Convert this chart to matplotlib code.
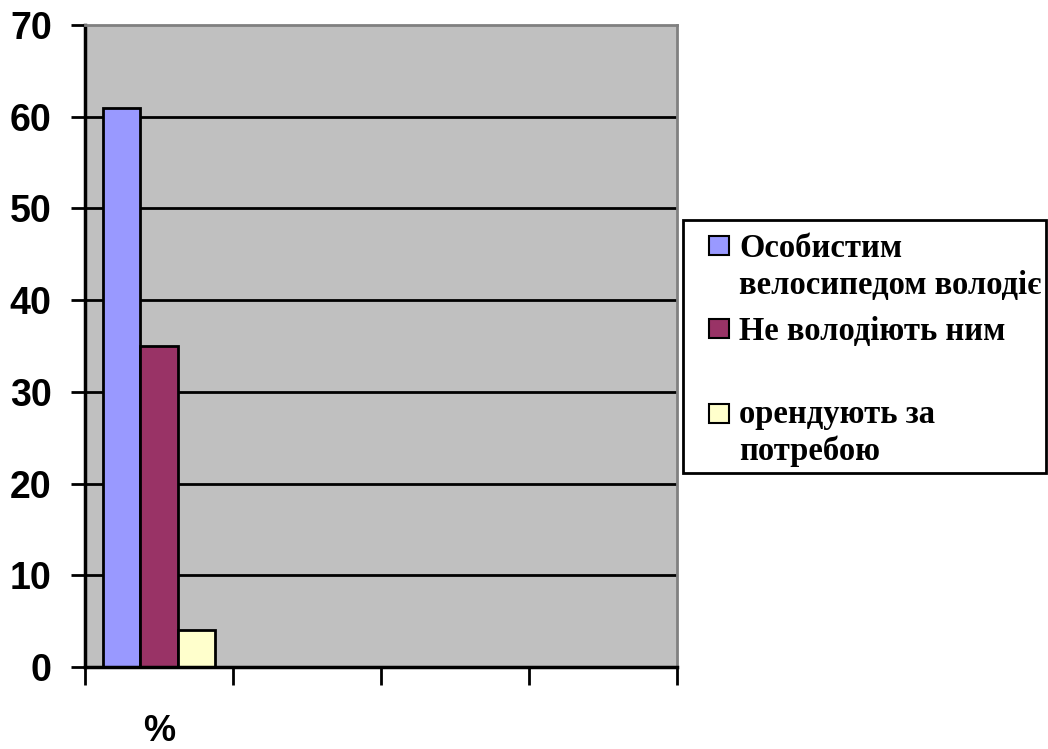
import numpy as np
import matplotlib
matplotlib.use("Agg")
import matplotlib.pyplot as plt
import matplotlib.patches as mpatches

# data
categories = ["%"]
series_names = [["Особистим", "велосипедом володіє"], ["Не володіють ним"], ["орендують за", "потребою"]]
series_values = [[61], [35], [4]]
bar_colors = ["#9999FF", "#993366", "#FFFFCC"]
n_slots = 4  # the category axis has four slots, only the first is used
y_ticks = [0, 10, 20, 30, 40, 50, 60, 70]

fig = plt.figure(figsize=(10.48, 7.49), dpi=100)
ax = fig.add_axes([85 / 1048, 1 - 667 / 749, (677 - 85) / 1048, (667 - 25) / 749])
ax.set_facecolor("#C0C0C0")

# gridlines
for t in y_ticks[1:-1]:
    ax.axhline(t, color="black", lw=2, zorder=1)

width = 0.253
ind = np.arange(len(categories)) + 0.5
for i, vals in enumerate(series_values):
    ax.bar(ind + (i - 1) * width, vals, width, color=bar_colors[i],
           edgecolor="black", linewidth=2, zorder=2)

ax.set_xlim(0, n_slots)
ax.set_ylim(0, 70)
ax.set_yticks(y_ticks)
ax.set_yticklabels([str(t) for t in y_ticks], fontsize=27, fontweight="bold",
                   family="Liberation Sans")
ax.set_xticks(np.arange(n_slots + 1))
ax.set_xticklabels([])
ax.set_xticks(ind, minor=True)
ax.set_xticklabels(categories, minor=True, fontsize=26, fontweight="bold",
                   family="Liberation Sans")
ax.tick_params(axis="x", which="minor", length=0, pad=34)
ax.tick_params(axis="x", which="major", length=13, width=2, direction="out")
ax.tick_params(axis="y", length=10, width=2, direction="out", pad=14)

for side in ["left", "bottom"]:
    ax.spines[side].set_color("black")
    ax.spines[side].set_linewidth(2.5)
for side in ["top", "right"]:
    ax.spines[side].set_color("#808080")
    ax.spines[side].set_linewidth(2)

# legend drawn by hand to keep Excel-like layout
W, H = 1048.0, 749.0
def fx(px):
    return px / W
def fy(py):
    return 1 - py / H

fig.patches.append(mpatches.Rectangle((fx(683), fy(473)), fx(1046) - fx(683), fy(220) - fy(473),
                                      transform=fig.transFigure, facecolor="white",
                                      edgecolor="black", lw=2))
square_tops = [236, 319, 404]
baselines = [[257, 294], [340], [423, 460]]
for i, lines in enumerate(series_names):
    top = square_tops[i]
    fig.patches.append(mpatches.Rectangle((fx(709), fy(top + 19)), fx(729) - fx(709), fy(top) - fy(top + 19),
                                          transform=fig.transFigure, facecolor=bar_colors[i],
                                          edgecolor="black", lw=1.5))
    for line, base in zip(lines, baselines[i]):
        fig.text(fx(739), fy(base), line, fontsize=23.5, fontweight="bold",
                 family="Liberation Serif", va="baseline", ha="left")

fig.savefig("out.png", dpi=100)
